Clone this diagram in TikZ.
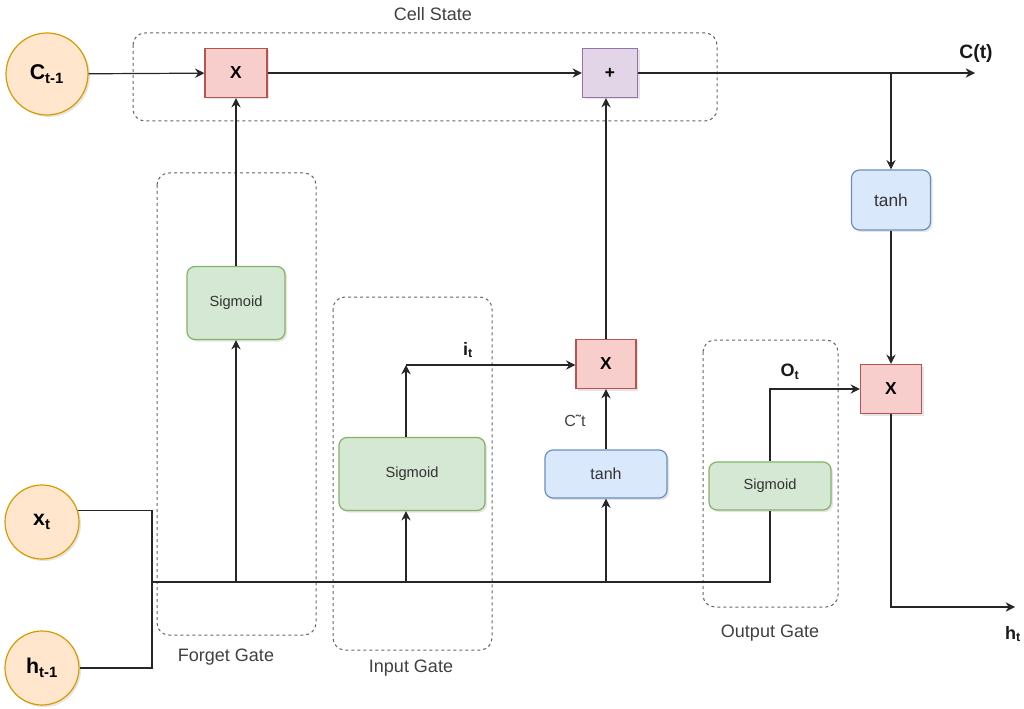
\documentclass[tikz,border=0pt]{standalone}
\usepackage{fontspec}
\setmainfont{Liberation Sans}
\usetikzlibrary{arrows.meta, calc, positioning, shadows}

\definecolor{orfill}{HTML}{FFE6CC}
\definecolor{orline}{HTML}{D79B00}
\definecolor{redfill}{HTML}{F8CECC}
\definecolor{redline}{HTML}{B85450}
\definecolor{purfill}{HTML}{E1D5E7}
\definecolor{purline}{HTML}{9673A6}
\definecolor{grfill}{HTML}{D5E8D4}
\definecolor{grline}{HTML}{82B366}
\definecolor{blfill}{HTML}{DAE8FC}
\definecolor{blline}{HTML}{6C8EBF}

\begin{document}
\begin{tikzpicture}[x=0.75pt, y=-0.75pt,
    >={Stealth[length=7pt, width=7pt]},
    wire/.style={draw=black!85, line width=0.9pt},
    soft/.style={drop shadow={shadow xshift=1.5pt, shadow yshift=-1.5pt, opacity=0.1, fill=black}},
    state/.style={circle, draw=orline, fill=orfill, line width=0.9pt, inner sep=0pt, soft, font=\fontsize{16}{18}\bfseries},
    opbox/.style={rectangle, line width=0.9pt, inner sep=0pt, minimum height=36.75pt, soft, font=\fontsize{13}{15}\bfseries},
    redop/.style={opbox, fill=redfill, draw=redline},
    purop/.style={opbox, fill=purfill, draw=purline},
    gatebox/.style={rectangle, rounded corners=6pt, line width=0.9pt, inner sep=0pt, soft, text=black!80, font=\fontsize{11}{13}\selectfont},
    sigbox/.style={gatebox, fill=grfill, draw=grline},
    tanhbox/.style={gatebox, fill=blfill, draw=blline, font=\fontsize{12}{14}\selectfont},
    frame/.style={draw=black!60, line width=0.75pt, dash pattern=on 2.25pt off 2.25pt, rounded corners=9pt},
    tag/.style={text=black!75, font=\fontsize{13.5}{16}\selectfont},
    sym/.style={text=black!90, font=\fontsize{13.5}{16}\bfseries}]
    \useasboundingbox (0,0) rectangle (1024,709);

    % dashed groups
    \draw[frame] (133,33) rectangle (717,121);
    \draw[frame] (157,173) rectangle (316,635);
    \draw[frame] (333,297) rectangle (492,650);
    \draw[frame] (703,340) rectangle (838,607);

    % inputs
    \node[state, minimum size=61.5pt] (cprev) at (47,74) {C\textsubscript{t-1}};
    \node[state, minimum size=55.5pt] (xt) at (42,522) {x\textsubscript{t}};
    \node[state, minimum size=55.5pt] (hprev) at (42,668) {h\textsubscript{t-1}};

    % pointwise operations
    \node[redop, minimum width=46.5pt] (xf) at (236,73) {X};
    \node[purop, minimum width=41.25pt] (plus) at (610,73) {+};
    \node[redop, minimum width=45pt] (xm) at (606,364) {X};
    \node[redop, minimum width=45.75pt] (xo) at (891,389) {X};

    % layers
    \node[sigbox, minimum width=73.5pt, minimum height=54.75pt] (sigf) at (236,303) {Sigmoid};
    \node[sigbox, minimum width=109.5pt, minimum height=54.75pt] (sigi) at (412,474) {Sigmoid};
    \node[sigbox, minimum width=91.5pt, minimum height=36pt] (sigo) at (770,486) {Sigmoid};
    \node[tanhbox, minimum width=91.5pt, minimum height=36pt] (tanhm) at (606,474) {tanh};
    \node[tanhbox, minimum width=59.25pt, minimum height=45pt, font=\fontsize{13}{15}\selectfont] (tanhc) at (891,200) {tanh};

    % labels
    \node[tag] (lcell) at (433,14) {Cell State};
    \node[tag] (lforget) at (226,657) {Forget Gate};
    \node[tag] (linput) at (411,668) {Input Gate};
    \node[tag] (loutput) at (770,633) {Output Gate};
    \node[tag, font=\fontsize{12}{14}\selectfont] (lctil) at (575,421) {C˜t};
    \node[sym, font=\fontsize{14.5}{16}\bfseries] (lct) at (976,54) {C(t)};
    \node[sym] (lht) at (1013,634) {h\textsubscript{t}};
    \node[sym] (lit) at (468,350) {i\textsubscript{t}};
    \node[sym] (lot) at (790,372) {O\textsubscript{t}};

    \coordinate (jn) at (152,582);
    \coordinate (cout) at (975,73);
    \coordinate (hout) at (1015,607);
    \coordinate (itc) at (406,365);

    % cell state line
    \draw[wire, ->] (cprev) -- (xf);
    \draw[wire, ->] (xf) -- (plus);
    \draw[wire, ->] (plus) -- (cout);
    \draw[wire, ->] (tanhc |- plus) -- (tanhc);
    \draw[wire, ->] (tanhc) -- (xo);
    \draw[wire, ->] (xo) |- (hout);

    % shared input bus
    \draw[wire] (xt.18) -| (jn) |- (hprev);
    \draw[wire] (jn) -| (sigo);
    \draw[wire, ->] (sigf |- jn) -- (sigf);
    \draw[wire, ->] (sigf) -- (xf);
    \draw[wire, ->] (itc |- jn) -- (itc |- sigi.south);
    \draw[wire, ->] (itc |- sigi.north) -- (itc);
    \draw[wire, ->] (itc) -- (itc -| xm.west);
    \draw[wire, ->] (tanhm |- jn) -- (tanhm);
    \draw[wire, ->] (tanhm) -- (xm);
    \draw[wire, ->] (xm) -- (xm |- plus.south);
    \draw[wire, ->] (sigo) |- (xo);
\end{tikzpicture}
\end{document}
